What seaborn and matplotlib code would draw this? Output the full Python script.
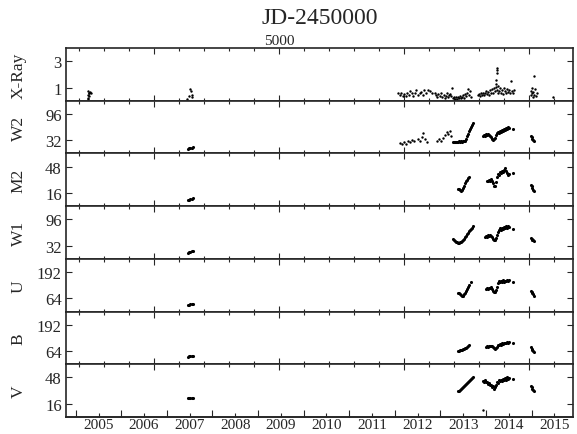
import numpy as np
import pandas as pd
import matplotlib
matplotlib.use("Agg")
import matplotlib.pyplot as plt
from matplotlib.ticker import MultipleLocator
import seaborn as sns

nan = np.nan

# ---------------------------------------------------------------------------
# X-ray count rate (JD - 2450000)
xray_jd = [3469, 3470, 3471, 3473, 3474, 3476, 3478, 3482, 3490,
           4265, 4280, 4290, 4296, 4300, 4305,
           5954, 5970, 5978, 5994, 6002, 6018, 6026, 6042, 6050, 6066, 6074,
           6090, 6098, 6114, 6130, 6138, 6154, 6162, 6178, 6194, 6210, 6226,
           6250, 6258, 6266, 6274, 6290, 6298, 6306, 6322, 6330, 6338, 6346,
           6354, 6362, 6370, 6378, 6386,
           6394, 6402, 6410, 6418, 6426, 6434, 6442, 6451, 6459, 6467, 6475,
           6483, 6491, 6499, 6507, 6515, 6523, 6531, 6539,
           6595, 6603, 6611, 6619, 6627, 6635, 6643, 6651, 6659, 6667, 6675,
           6683, 6691, 6699, 6707, 6715, 6723, 6731, 6739, 6739, 6739, 6747,
           6747, 6747, 6747, 6755, 6755, 6763, 6771, 6779, 6787, 6795, 6803,
           6811, 6819, 6827, 6835, 6843, 6851, 6859, 6867, 6875, 6883,
           7020, 7020, 7028, 7028, 7036, 7036, 7044, 7044, 7052, 7060, 7068,
           7196]
xray = [0.2, 0.45, 0.7, 0.1, 0.55, 0.35, 0.62, 0.65, 0.6,
        0.15, 0.33, 0.92, 0.7, 0.45, 0.26,
        0.55, 0.45, 0.62, 0.38, 0.5, 0.35, 0.6, 0.42, 0.7, 0.55, 0.38,
        0.62, 0.78, 0.45, 0.55, 0.68, 0.4, 0.8, 0.62, 0.85, 0.72, 0.55,
        0.62, 0.4, 0.25, 0.5, 0.38, 0.6, 0.3, 0.45, 0.2, 0.35, 0.55,
        0.28, 0.4, 0.5, 0.32, 0.95,
        0.2, 0.3, 0.15, 0.25, 0.12, 0.3, 0.2, 0.35, 0.18, 0.28, 0.4,
        0.22, 0.5, 0.35, 0.6, 0.9, 0.45, 0.7, 0.3,
        0.4, 0.5, 0.35, 0.55, 0.45, 0.6, 0.4, 0.55, 0.7, 0.5, 0.65,
        0.45, 0.8, 0.6, 0.9, 0.55, 1.0, 0.7, 1.3, 1.6, 1.05, 0.85,
        2.1, 2.3, 2.5, 0.6, 1.1, 0.75, 0.95, 0.6, 0.85, 0.5, 1.0,
        0.7, 0.55, 0.9, 0.65, 0.8, 0.55, 1.5, 0.7, 0.6, 0.85,
        0.4, 0.75, 0.55, 1.0, 0.3, 0.65, 1.85, 0.45, 0.9, 0.35, 0.6,
        0.28]

# ---------------------------------------------------------------------------
# UVOT epochs (JD - 2450000) shared by the six optical/UV filters
uvot_jd = [4272, 4281, 4290, 4299, 4308,
           6396, 6404, 6412,
           6420, 6428, 6436, 6444, 6452, 6460, 6468, 6476, 6484, 6492,
           6500, 6508, 6516, 6524, 6532, 6540, 6548, 6556,
           6636, 6644, 6652, 6660, 6668, 6676, 6684, 6692, 6700, 6708,
           6716, 6724, 6732, 6740, 6748, 6756, 6764, 6772, 6780, 6788,
           6796, 6804, 6812, 6820, 6828, 6836, 6844,
           6876,
           7018, 7024, 7030, 7036, 7042]

w2 = [11, 12, 13, 14, 15,
      27, 28, 27,
      27, 28, 27, 29, 28, 29, 28, 30, 29, 31, 36, 42, 48, 54, 60, 65, 70, 74,
      43, 45, 42, 46, 44, 47, 45, 43, 39, 36, 33, 35, 38, 44, 49, 52, 50, 54,
      52, 57, 55, 60, 58, 62, 60, 64, 61,
      60,
      42, 39, 36, 33, 30]
m2 = [7.5, 8.0, 8.5, 9.0, 9.5,
      nan, nan, nan,
      nan, nan, 21, 20.5, 19.5, 18.5, 19, 22, 25, 28, 30, 32, 34, 35,
      nan, nan, nan, nan,
      nan, nan, nan, nan, 31, 30, 32, 31, 33, 31, 28, 25, 24, 29, 35, 39,
      38, 41, 40, 43, 42, 44, 46, 43, 40, 38, 39,
      40,
      26, 24, 22, 20, 18.5]
w1 = [15, 16, 17, 18, 19,
      48, 46, 44,
      42, 40, 38, 39, 40, 41, 43, 45, 48, 52, 56, 60, 64, 67, 70, 73, 76, 79,
      nan, nan, 54, 56, 53, 57, 55, 58, 56, 52, 48, 46, 45, 50, 58, 66, 71,
      74, 70, 76, 73, 78, 75, 79, 76, 80, 77,
      72,
      51, 49, 47, 45, 43]
u = [31, 33, 35, 37, 39,
     nan, nan, nan,
     nan, nan, 92, 90, 86, 80, 76, 78, 84, 92, 101, 110, 119, 127,
     nan, 146, nan, nan,
     nan, nan, nan, 112, 115, 110, 116, 113, 117, 110, 102, 96, 94, 104,
     120, 140, 148, 142, 150, 146, 152, 144, 150, 147, 153, 148, 151,
     143,
     100, 95, 89, 83, 78]
b = [37, 38, 39, 40, 41,
     nan, nan, nan,
     nan, nan, 66, 65, 67, 68, 70, 72, 75, 78, 81, 85, 88, 92,
     nan, nan, nan, nan,
     nan, nan, nan, 86, 88, 86, 90, 88, 91, 87, 84, 79, 76, 80, 86, 92,
     95, 98, 96, 101, 99, 103, 104, 105, 108, 104, 106,
     101,
     82, 76, 70, 65, 60]
v = [22.5, 22.8, 23.0, 23.2, 23.5,
     nan, nan, nan,
     nan, nan, 31.0, 31.5, 32.5, 33.5, 35.0, 36.0, 37.5, 38.5, 40.0,
     41.5, 42.5, 43.5, 45.0, 46.0, 47.5, 48.5,
     43.5, 42.0, 44.5, 42.5, 43.0, 40.5, 41.5, 38.5, 39.0, 36.0, 37.5,
     34.5, 37.0, 38.5, 42.5, 41.0, 45.0, 43.5, 45.5, 44.0, 46.5, 45.0,
     47.0, 45.5, 48.0, 46.5, 47.5,
     46.0,
     37.5, 36.0, 34.5, 33.0, 31.5]

# UVW2 monitoring before the main campaign, and one isolated V point
w2_early_jd = [5970, 5986, 6002, 6018, 6034, 6050, 6066, 6082, 6114, 6130,
               6146, 6154, 6170, 6186, 6266, 6282, 6298, 6314, 6330, 6346,
               6354, 6370, 6378]
w2_early = [26, 22, 28, 24, 30, 27, 33, 29, 36, 31, 40, 50, 35, 27, 30,
            34, 29, 37, 44, 52, 46, 54, 42]
v_extra_jd = [6635]
v_extra = [8.8]

# Panel names, y limits and labelled y ticks
bands = ["X-Ray", "W2", "M2", "W1", "U", "B", "V"]
ylims = [(0, 4), (0, 128), (0, 64), (0, 128), (0, 256), (0, 256), (0, 64)]
yticks = [[1, 3], [32, 96], [16, 48], [32, 96], [64, 192], [64, 192], [16, 48]]

# Top (JD) and bottom (calendar year) axis labels
jd_major = [4000, 5000, 6000, 7000]
jd_labels = ["", "5000", "", ""]
years = [2005, 2006, 2007, 2008, 2009, 2010, 2011, 2012, 2013, 2014, 2015]

# ---------------------------------------------------------------------------
frames = [pd.DataFrame({"jd": xray_jd, "flux": xray, "band": "X-Ray", "kind": "sparse"})]
for name, vals in [("W2", w2), ("M2", m2), ("W1", w1), ("U", u), ("B", b), ("V", v)]:
    frames.append(pd.DataFrame({"jd": uvot_jd, "flux": vals, "band": name, "kind": "dense"}))
frames.append(pd.DataFrame({"jd": w2_early_jd, "flux": w2_early, "band": "W2", "kind": "sparse"}))
frames.append(pd.DataFrame({"jd": v_extra_jd, "flux": v_extra, "band": "V", "kind": "sparse"}))
df = pd.concat(frames, ignore_index=True).dropna()

sns.set_style("ticks")
plt.rcParams["font.family"] = ["Liberation Serif", "DejaVu Serif"]
plt.rcParams["axes.linewidth"] = 1.2

W, H = 577, 435
fig, axes = plt.subplots(len(bands), 1, figsize=(W / 100, H / 100), dpi=100)
fig.subplots_adjust(left=66 / W, right=573 / W, top=1 - 49 / H,
                    bottom=1 - 418 / H, hspace=0)

xlim = (3293, 7356)
sizes = {"sparse": 3, "dense": 5}


def jd_of(year, month=1, day=1):
    d = np.datetime64(f"{year:04d}-{month:02d}-{day:02d}")
    return (d - np.datetime64("2000-01-01")).astype(int) + 1544.5


for i, (ax, name) in enumerate(zip(axes, bands)):
    for kind, s in sizes.items():
        sub = df[(df["band"] == name) & (df["kind"] == kind)]
        if len(sub):
            sns.scatterplot(data=sub, x="jd", y="flux", ax=ax, s=s,
                            color="black", linewidth=0, marker="o",
                            legend=False)
    ax.set_xlim(*xlim)
    ax.set_ylim(*ylims[i])
    ax.set_yticks(yticks[i])
    ax.set_yticklabels([str(t) for t in yticks[i]], fontsize=12)
    ax.xaxis.set_major_locator(MultipleLocator(1000))
    ax.xaxis.set_minor_locator(MultipleLocator(200))
    ax.tick_params(axis="both", which="both", direction="in", top=True,
                   bottom=True, left=True, right=True, labelbottom=False,
                   width=0.8)
    ax.tick_params(axis="x", which="major", length=4.5)
    ax.tick_params(axis="x", which="minor", length=2.2)
    ax.tick_params(axis="y", which="major", length=4, pad=3)
    ax.set_xlabel("")
    ax.set_ylabel(name, fontsize=12.5, ha="center", va="center",
                  rotation=90)
    ax.yaxis.set_label_coords(-0.093, 0.5)

# JD scale along the top
top = axes[0]
top.set_xticks(jd_major, labels=jd_labels)
top.tick_params(axis="x", labeltop=True, labelsize=11, pad=1)
fig.text(319.5 / W, 1 - 19 / H, "JD-2450000", ha="center", va="center",
         fontsize=17)

# Calendar years along the bottom
bot = axes[-1]
bot.tick_params(axis="x", which="both", bottom=False)
sec = bot.secondary_xaxis("bottom")
sec.set_xticks([jd_of(y) for y in years + [2016]], labels=[""] * (len(years) + 1))
sec.set_xticks([jd_of(y, 7, 2) for y in years], labels=[str(y) for y in years],
               minor=True)
sec.tick_params(which="both", direction="in", width=0.8)
sec.tick_params(which="major", length=5)
sec.tick_params(which="minor", length=3, labelsize=11, pad=0.5)
sec.spines["bottom"].set_linewidth(1.2)

fig.savefig("out.png", dpi=100)
